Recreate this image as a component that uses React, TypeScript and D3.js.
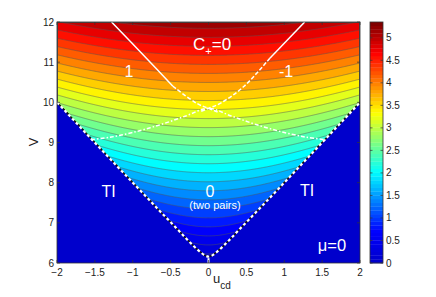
import React, { useMemo } from "react";
import * as d3 from "d3";

const W = 436;
const H = 297;

// axis ticks
const xTicks = [-2, -1.5, -1, -0.5, 0, 0.5, 1, 1.5, 2];
const yTicks = [6, 7, 8, 9, 10, 11, 12];
const cbTicks = [0, 0.5, 1, 1.5, 2, 2.5, 3, 3.5, 4, 4.5, 5];

// surface model: f(0,V) ~ gain*(V-6), contours bend up with |u|
const gain = 0.89;
const tilt = 1.15;
const vOrigin = 6;
const levelStep = 0.2;
const colorMax = 5.35;

// lower edge of the coloured region (the TI boundary), (u, V)
const edgeU = [-2, -1, -0.6, -0.4, -0.3, -0.2, -0.1, -0.05, 0, 0.05, 0.1, 0.2, 0.3, 0.4, 0.6, 1, 2];
const edgeV = [10, 8, 7.21, 6.82, 6.62, 6.43, 6.26, 6.19, 6.16, 6.19, 6.26, 6.43, 6.62, 6.82, 7.21, 8, 10];

// white phase lines, (u, V)
const lineLeftSolid = [[-1.28, 12], [-0.82, 11.1], [-0.47, 10.4]];
const lineLeftDashed = [[-0.47, 10.4], [-0.16, 9.98], [0, 9.85], [0.12, 9.76]];
const lineRightSolid = [[1.27, 12], [0.81, 11.1]];
const lineRightDashed = [[0.81, 11.1], [0.47, 10.4], [0.16, 9.98], [0, 9.85], [-0.12, 9.76]];
const arcPoints = [
  [-1.55, 9.07], [-1.3, 9.13], [-1.0, 9.25], [-0.64, 9.44], [-0.3, 9.66], [0, 9.85],
  [0.3, 9.66], [0.64, 9.44], [1.0, 9.25], [1.3, 9.13], [1.55, 9.07],
];
const stubPoints = [[0, 6.0], [0, 6.12]];

const jetStops = [0, 0.125, 0.375, 0.625, 0.875, 1];
const jetColors = ["#0000cc", "#0000ff", "#00ffff", "#ffff00", "#ff0000", "#800000"];

const FONT = "'Liberation Sans', Arial, Helvetica, sans-serif";

const App = () => {
  const left = 57, right = 360, top = 22, bottom = 263;
  const cbLeft = 370, cbRight = 383;

  const x = d3.scaleLinear().domain([-2, 2]).range([left, right]);
  const y = d3.scaleLinear().domain([6, 12]).range([bottom, top]);
  const cy = d3.scaleLinear().domain([0, colorMax]).range([bottom, top]);
  const jet = d3.scaleLinear<string>().domain(jetStops).range(jetColors).interpolate(d3.interpolateRgb).clamp(true);
  const color = (v: number) => jet(v / colorMax);

  const nx = right - left;
  const ny = bottom - top;

  const bands = useMemo(() => {
    const edge = d3.scaleLinear().domain(edgeU).range(edgeV);
    const values = new Array(nx * ny);
    for (let j = 0; j < ny; j++) {
      const v = 12 - ((j + 0.5) * 6) / ny;
      for (let i = 0; i < nx; i++) {
        const u = -2 + ((i + 0.5) * 4) / nx;
        let f = 0;
        if (v > edge(u)) {
          f = gain * Math.sqrt(Math.max(0, (v - vOrigin) ** 2 - tilt * u * u));
        }
        values[j * nx + i] = f;
      }
    }
    const levels = d3.range(0, colorMax, levelStep);
    return d3.contours().size([nx, ny]).thresholds(levels)(values);
  }, []);

  const path = d3.geoPath(d3.geoIdentity().translate([left, top]) as any);
  const line = d3.line<number[]>().x(d => x(d[0])).y(d => y(d[1])).curve(d3.curveCatmullRom);
  const edgeLine = d3.line<number>().x((d, i) => x(edgeU[i])).y(d => y(d)).curve(d3.curveMonotoneX);

  const cbSteps = d3.range(64);
  const cbH = (bottom - top) / 64;

  return (
    <svg width={W} height={H} style={{ position: "absolute", left: 0, top: 0, background: "#fff" }} fontFamily={FONT}>
      <defs>
        <clipPath id="plotClip">
          <rect x={left} y={top} width={right - left} height={bottom - top} />
        </clipPath>
      </defs>
      <g clipPath="url(#plotClip)">
        {bands.map((b, i) => (
          <path key={"f" + i} d={path(b as any) || ""} fill={color(b.value)} />
        ))}
        {bands.slice(1).map((b, i) => (
          <path key={"l" + i} d={path(b as any) || ""} fill="none" stroke="#555" strokeWidth={0.6} strokeOpacity={0.85} />
        ))}
        <path d={edgeLine(edgeV) || ""} fill="none" stroke="#111" strokeWidth={1.4} />
        <path d={edgeLine(edgeV) || ""} fill="none" stroke="#fff" strokeWidth={2.2} strokeDasharray="3,2.5" />
        <path d={line(stubPoints) || ""} fill="none" stroke="#fff" strokeWidth={2} />
        <path d={line(lineLeftSolid) || ""} fill="none" stroke="#fff" strokeWidth={1.5} />
        <path d={line(lineLeftDashed) || ""} fill="none" stroke="#fff" strokeWidth={1.5} strokeDasharray="4,2" />
        <path d={line(lineRightSolid) || ""} fill="none" stroke="#fff" strokeWidth={1.5} />
        <path d={line(lineRightDashed) || ""} fill="none" stroke="#fff" strokeWidth={1.5} strokeDasharray="4,2" />
        <path d={line(arcPoints) || ""} fill="none" stroke="#fff" strokeWidth={1.5} strokeDasharray="4,2,1.5,2" />
      </g>

      {/* labels inside the plot */}
      <g fill="#fff" fontSize={17}>
        <text x={193} y={50}>
          C<tspan dy={5} fontSize={11}>+</tspan>
          <tspan dy={-5}>=0</tspan>
        </text>
        <text x={129} y={77} textAnchor="middle" fontSize={16}>1</text>
        <text x={286} y={77} textAnchor="middle" fontSize={16}>-1</text>
        <text x={108.5} y={197} textAnchor="middle" fontSize={16}>TI</text>
        <text x={307} y={196} textAnchor="middle" fontSize={16}>TI</text>
        <text x={210} y={197} textAnchor="middle" fontSize={16}>0</text>
        <text x={215} y={209} textAnchor="middle" fontSize={11}>(two pairs)</text>
        <text x={332} y={251} textAnchor="middle" fontSize={16.5}>μ=0</text>
      </g>

      {/* axes box and ticks */}
      <rect x={left} y={top} width={right - left} height={bottom - top} fill="none" stroke="#333" strokeWidth={0.8} />
      {xTicks.map(t => (
        <g key={"xt" + t}>
          <line x1={x(t)} x2={x(t)} y1={bottom} y2={bottom - 3} stroke="#333" strokeWidth={0.7} />
          <line x1={x(t)} x2={x(t)} y1={top} y2={top + 3} stroke="#333" strokeWidth={0.7} />
          <text x={x(t)} y={275.5} fontSize={10} textAnchor="middle" fill="#222">
            {t < 0 ? "\u2212" + Math.abs(t) : String(t)}
          </text>
        </g>
      ))}
      {yTicks.map(t => (
        <g key={"yt" + t}>
          <line x1={left} x2={left + 3} y1={y(t)} y2={y(t)} stroke="#333" strokeWidth={0.7} />
          <line x1={right} x2={right - 3} y1={y(t)} y2={y(t)} stroke="#333" strokeWidth={0.7} />
          <text x={54} y={y(t) + 3.5} fontSize={10} textAnchor="end" fill="#222">{t}</text>
        </g>
      ))}
      <text x={213} y={283} fontSize={13} fill="#222">
        u<tspan dy={6} fontSize={10}>cd</tspan>
      </text>
      <text transform={`translate(38,142) rotate(-90)`} fontSize={13} textAnchor="middle" fill="#222">V</text>

      {/* colorbar */}
      {cbSteps.map(i => (
        <rect key={"cb" + i} x={cbLeft} width={cbRight - cbLeft} y={bottom - (i + 1) * cbH} height={cbH + 0.3}
          fill={jet(i / 63)} />
      ))}
      <rect x={cbLeft} y={top} width={cbRight - cbLeft} height={bottom - top} fill="none" stroke="#333" strokeWidth={0.8} />
      {cbTicks.map(t => (
        <g key={"ct" + t}>
          <line x1={cbRight} x2={cbRight - 2.5} y1={cy(t)} y2={cy(t)} stroke="#333" strokeWidth={0.7} />
          <line x1={cbLeft} x2={cbLeft + 2.5} y1={cy(t)} y2={cy(t)} stroke="#333" strokeWidth={0.7} />
          <text x={386} y={cy(t) + 3.5} fontSize={10} fill="#222">{t}</text>
        </g>
      ))}
    </svg>
  );
};

export default App;
